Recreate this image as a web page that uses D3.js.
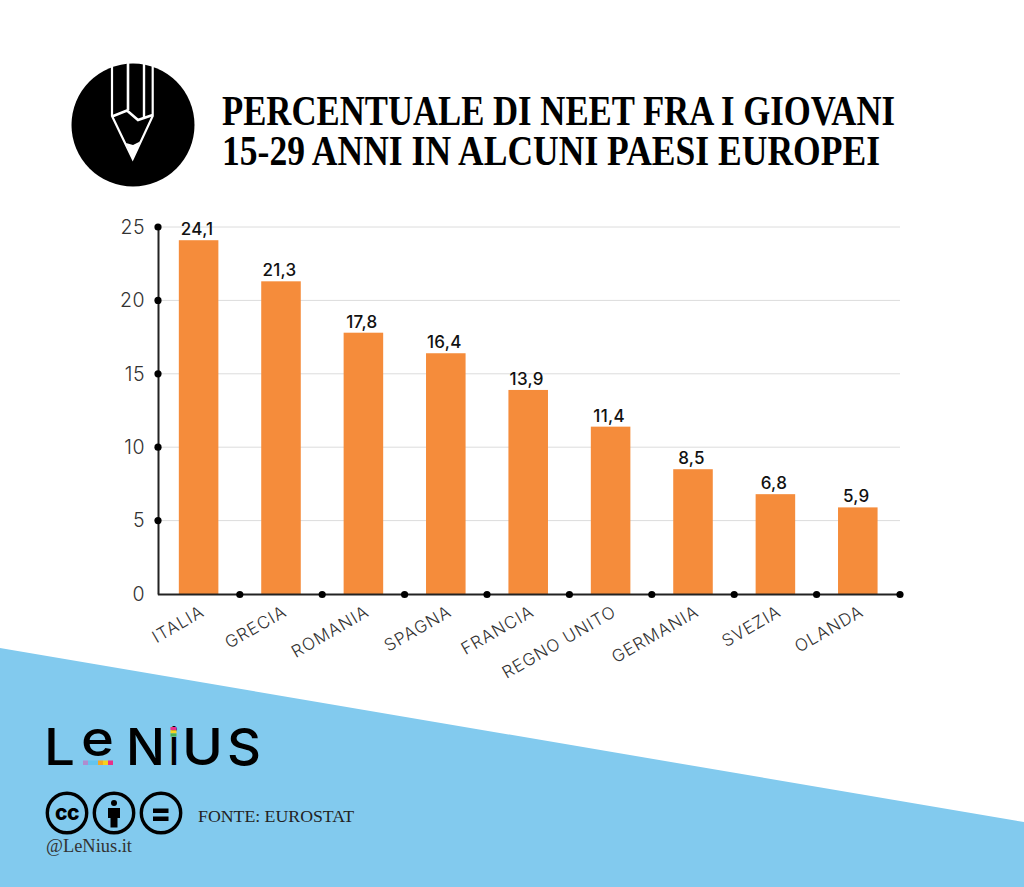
<!DOCTYPE html>
<html><head><meta charset="utf-8">
<script src="https://cdn.jsdelivr.net/npm/d3@7"></script>
<style>html,body{margin:0;padding:0;background:#fff}svg{display:block}</style>
</head><body><svg id="c" width="1024" height="887"></svg>
<script>
const categories=["ITALIA","GRECIA","ROMANIA","SPAGNA","FRANCIA","REGNO UNITO","GERMANIA","SVEZIA","OLANDA"];
const values=[24.1,21.3,17.8,16.4,13.9,11.4,8.5,6.8,5.9];
const yTicks=[0,5,10,15,20,25];
const titleLines=["PERCENTUALE DI NEET FRA I GIOVANI","15-29 ANNI IN ALCUNI PAESI EUROPEI"];
const source="FONTE: EUROSTAT";
const handle="@LeNius.it";
const brand=["L","e","N","i","U","S"];

const SANS="Inter, 'Noto Sans', sans-serif";
const SERIF="'Liberation Serif', serif";
const svg=d3.select("#c");
const pl=d3.line();

// background wedge
svg.append("path").attr("d",pl([[0,648],[1024,822],[1024,887],[0,887]])+"Z").attr("fill","#82CAEE");

// pencil badge
const badge=svg.append("g");
badge.append("circle").attr("cx",133).attr("cy",125).attr("r",61.5).attr("fill","#000");
function wline(p,sw){badge.append("path").attr("d",pl(p)).attr("fill","none").attr("stroke","#fff").attr("stroke-width",sw||2.2);}
wline([[112,63.5],[112,116],[132.7,159],[152.7,116],[152.7,63.5]]);
wline([[128,63],[128,110]],2.6);
wline([[144,63],[144,118]],2.4);
wline([[112,116.5],[127,110.5],[138,120],[152.7,115]],2.6);
badge.append("path").attr("d",pl([[126,143],[132.7,159.5],[140,141.5],[133,145]])+"Z").attr("fill","#fff");

// chart
const x=d3.scaleBand().domain(categories).range([157.4,899]).paddingInner(0.52).paddingOuter(0.26);
const y=d3.scaleLinear().domain([0,25]).range([594,227]);

svg.append("g").selectAll("line").data(yTicks.filter(d=>d>0)).join("line")
 .attr("x1",158).attr("x2",900).attr("y1",d=>y(d)).attr("y2",d=>y(d))
 .attr("stroke","#dcdcdc").attr("stroke-width",1);

svg.append("g").selectAll("rect").data(values).join("rect")
 .attr("x",(d,i)=>x(categories[i])).attr("width",x.bandwidth())
 .attr("y",d=>y(d)).attr("height",d=>y(0)-y(d)).attr("fill","#F58C3B");

svg.append("g").selectAll("text").data(values).join("text")
 .attr("x",(d,i)=>x(categories[i])+x.bandwidth()/2-1.5).attr("y",d=>y(d)-5)
 .attr("text-anchor","middle").attr("font-family",SANS).attr("font-weight",500)
 .attr("font-size",17).attr("letter-spacing",0.3).attr("fill","#111")
 .text(d=>d3.format(".1f")(d).replace(".",","));

const yAxis=svg.append("g").attr("transform","translate(158,0)")
 .call(d3.axisLeft(y).tickValues(yTicks).tickSize(0).tickPadding(13));
yAxis.selectAll("path").attr("stroke","#222").attr("stroke-width",2);
yAxis.selectAll("text").attr("font-family",SANS).attr("font-weight",300).attr("font-size",19.5).attr("letter-spacing",0.5).attr("fill","#333");

const xAxis=svg.append("g").attr("transform","translate(0,594)")
 .call(d3.axisBottom(x).tickSize(0));
xAxis.selectAll("path").attr("stroke","#222").attr("stroke-width",2);
xAxis.selectAll("text")
 .attr("font-family",SANS).attr("font-weight",300).attr("font-size",17).attr("letter-spacing",1).attr("fill","#333")
 .attr("text-anchor","end").attr("dy",0).attr("y",0)
 .attr("transform","translate(7,21) rotate(-30)");

// axis dots
svg.append("g").selectAll("circle").data(yTicks.filter(d=>d>0)).join("circle")
 .attr("cx",158).attr("cy",d=>y(d)).attr("r",3.6).attr("fill","#000");
svg.append("g").selectAll("circle").data(categories).join("circle")
 .attr("cx",(d,i)=>157.4+x.step()*(i+1)+(i==8?1:0)).attr("cy",594.5).attr("r",3.6).attr("fill","#000");

// title
svg.append("g").selectAll("text").data(titleLines).join("text")
 .attr("x",222).attr("y",(d,i)=>124.5+i*40.5)
 .attr("font-family",SERIF).attr("font-weight",700).attr("font-size",43).attr("fill","#000")
 .attr("textLength",(d,i)=>i?658:673).attr("lengthAdjust","spacingAndGlyphs")
 .text(d=>d);

// brand
const brandX=[44,81,126,169,182,227];
const brandW=[31,33,39,10,41,34];
const brandSize=[51,50,51,51,51,51];
const brandY=[765,756,765,765,765,765];
svg.append("g").selectAll("text").data(brand).join("text")
 .attr("x",(d,i)=>brandX[i]).attr("y",(d,i)=>brandY[i]).attr("font-family",SANS).attr("font-weight",500)
 .attr("font-size",(d,i)=>brandSize[i]).attr("fill","#000")
 .attr("textLength",(d,i)=>brandW[i]).attr("lengthAdjust","spacingAndGlyphs").text(d=>d);
const stripe=["#b08ccf","#63c4ee","#63c4ee","#f5a623","#f7d21e","#e8308a"];
svg.append("g").selectAll("rect").data(stripe).join("rect")
 .attr("x",(d,i)=>83+i*5).attr("y",760.5).attr("width",5).attr("height",4.5).attr("fill",d=>d);
const idot=["#e8308a","#f7d21e","#4cb050"];
svg.append("g").selectAll("rect").data(idot).join("rect")
 .attr("x",170.5).attr("y",(d,i)=>727+i*3.2).attr("width",6).attr("height",3.2).attr("fill",d=>d);

// licence icons
const cc=svg.append("g");
[67,114,161].forEach(cx=>cc.append("circle").attr("cx",cx).attr("cy",813).attr("r",19.7).attr("fill","#82CAEE").attr("stroke","#000").attr("stroke-width",3.4));
cc.append("text").attr("x",67).attr("y",820).attr("text-anchor","middle").attr("font-family",SANS).attr("font-weight",800).attr("font-size",21).attr("letter-spacing",-0.5).text("cc");
cc.append("circle").attr("cx",114).attr("cy",803).attr("r",3);
cc.append("path").attr("d",pl([[108,808],[120,808],[120,818],[117.5,818],[117.5,827.5],[110.5,827.5],[110.5,818],[108,818]])+"Z");
cc.append("rect").attr("x",153).attr("y",808.5).attr("width",15.5).attr("height",4.5);
cc.append("rect").attr("x",153).attr("y",816.5).attr("width",15.5).attr("height",4.5);

svg.append("text").attr("x",198).attr("y",822).attr("font-family",SERIF).attr("font-size",17).attr("fill","#222")
 .attr("textLength",156).attr("lengthAdjust","spacingAndGlyphs").text(source);
svg.append("text").attr("x",46).attr("y",852).attr("font-family",SERIF).attr("font-size",18).attr("fill","#333")
 .attr("textLength",86).attr("lengthAdjust","spacingAndGlyphs").text(handle);
</script></body></html>
